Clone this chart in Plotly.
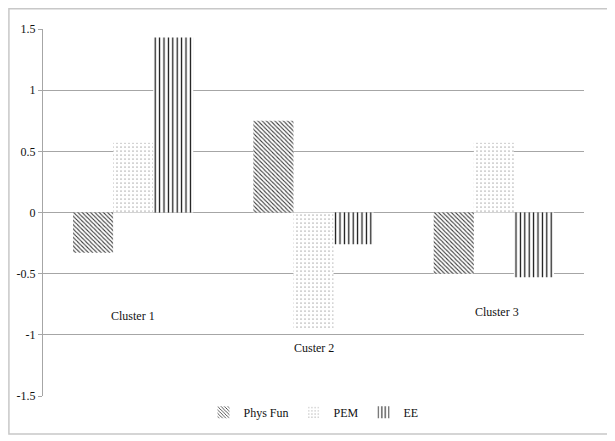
import plotly.graph_objects as go

categories = ["Cluster 1", "Custer 2", "Cluster 3"]
phys_fun = [-0.33, 0.75, -0.50]
pem = [0.57, -0.96, 0.57]
ee = [1.43, -0.26, -0.53]
y_ticks = [-1.5, -1, -0.5, 0, 0.5, 1, 1.5]
y_tick_text = ["-1.5", "-1", "-0.5", "0", "0.5", "1", "1.5"]
label_y = [-0.85, -1.11, -0.81]
label_x_offset = [0, 0, 0.02]

FONT = "Liberation Serif"

series = [
    ("Phys Fun", phys_fun, dict(shape="\\", size=3, solidity=0.35, fgcolor="#3a3a3a", bgcolor="white", fillmode="replace")),
    ("PEM", pem, dict(shape=".", size=4, solidity=0.06, fgcolor="#555555", bgcolor="white", fillmode="replace")),
    ("EE", ee, dict(shape="|", size=4.4, solidity=0.28, fgcolor="#111111", bgcolor="white", fillmode="replace")),
]

fig = go.Figure()
xs = [0, 1, 2]
for name, vals, pat in series:
    fig.add_trace(go.Bar(
        x=xs, y=vals, name=name,
        marker=dict(color="white", pattern=pat, line=dict(width=0)),
    ))

for i, cat in enumerate(categories):
    fig.add_annotation(x=xs[i] + label_x_offset[i], y=label_y[i], text=cat,
                       showarrow=False, xref="x", yref="y",
                       font=dict(family=FONT, size=12, color="#111111"))

# outer chart border
fig.add_shape(type="rect", xref="paper", yref="paper",
              x0=-0.0630, x1=1.0455, y0=-0.1035, y1=1.0550,
              line=dict(color="#c8c8c8", width=1.5), fillcolor="rgba(0,0,0,0)")

# page body has an 8px default margin, so the figure is offset by 8px
fig.update_layout(
    width=607, height=433,
    margin=dict(l=35, r=31, t=21, b=45, autoexpand=False),
    paper_bgcolor="white", plot_bgcolor="white",
    barmode="group", bargap=0.333, bargroupgap=0,
    font=dict(family=FONT, size=12, color="#111111"),
    showlegend=True,
    legend=dict(orientation="h", x=0.5, xanchor="center", y=-0.005, yanchor="top",
                font=dict(family=FONT, size=12, color="#111111"),
                itemwidth=30, tracegroupgap=0),
    xaxis=dict(range=[-0.5, 2.5], showticklabels=False, showgrid=False,
               zeroline=False, showline=False, ticks=""),
    yaxis=dict(range=[-1.5, 1.5], tickvals=y_ticks, ticktext=y_tick_text,
               showgrid=True, gridcolor="#a6a6a6", gridwidth=1,
               zeroline=True, zerolinecolor="#a6a6a6", zerolinewidth=1,
               showline=True, linecolor="#a6a6a6", linewidth=1,
               ticks="outside", ticklen=4, tickcolor="#a6a6a6",
               tickfont=dict(family=FONT, size=12, color="#111111")),
)

fig.write_html("out.html")
